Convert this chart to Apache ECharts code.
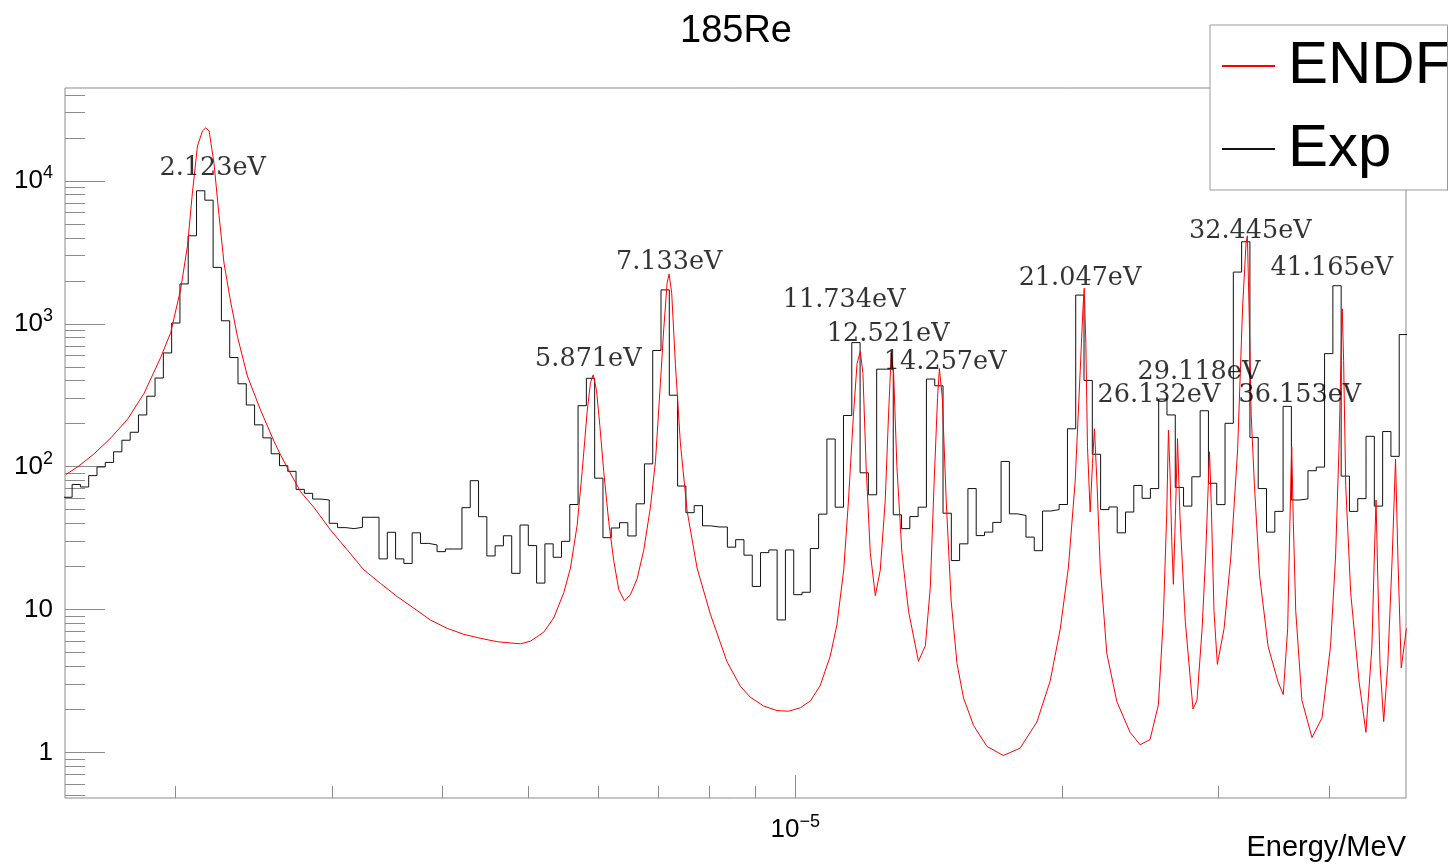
<!DOCTYPE html>
<html>
<head>
<meta charset="utf-8">
<script src="https://cdn.jsdelivr.net/npm/echarts@6/dist/echarts.min.js"></script>
<style>
html,body{margin:0;padding:0;background:#fff;}
#chart{width:1455px;height:864px;}
</style>
</head>
<body>
<div id="chart"></div>
<script>
// ---------------- data (energies in eV, cross sections in barns) ----------------
const endfEnergyEV = [
  1.503, 1.550, 1.618, 1.690, 1.765, 1.842, 1.923, 1.974, 2.026, 2.062,
  2.088, 2.116, 2.144, 2.162, 2.181, 2.209, 2.238, 2.267, 2.307, 2.348,
  2.409, 2.494, 2.581, 2.627, 2.696, 2.766, 2.863, 2.990, 3.123, 3.261,
  3.405, 3.556, 3.713, 3.877, 4.048, 4.227, 4.415, 4.610, 4.814, 4.898,
  5.026, 5.202, 5.339, 5.480, 5.576, 5.674, 5.748, 5.824, 5.874, 5.915,
  5.966, 6.018, 6.080, 6.159, 6.240, 6.321, 6.415, 6.516, 6.630, 6.745,
  6.863, 6.954, 7.044, 7.105, 7.168, 7.205, 7.254, 7.324, 7.419, 7.550,
  7.748, 8.021, 8.375, 8.670, 8.898, 9.210, 9.536, 9.827, 10.13, 10.40,
  10.67, 10.95, 11.14, 11.34, 11.48, 11.63, 11.74, 11.84, 11.92, 12.02,
  12.15, 12.31, 12.47, 12.63, 12.74, 12.83, 12.91, 13.02, 13.19, 13.42,
  13.77, 14.02, 14.20, 14.34, 14.47, 14.54, 14.65, 14.80, 14.99, 15.22,
  15.48, 15.89, 16.45, 17.17, 17.93, 18.73, 19.39, 19.90, 20.33, 20.69,
  20.96, 21.11, 21.18, 21.27, 21.36, 21.51, 21.64, 21.75, 21.89, 22.08,
  22.46, 23.05, 23.86, 24.49, 25.13, 25.68, 26.01, 26.24, 26.36, 26.47,
  26.59, 26.70, 26.84, 26.99, 27.16, 27.54, 27.90, 28.10, 28.39, 28.77,
  29.03, 29.23, 29.33, 29.46, 29.67, 29.93, 30.46, 31.00, 31.55, 31.96,
  32.25, 32.36, 32.50, 32.68, 32.96, 33.40, 34.15, 35.05, 35.52, 35.93,
  36.14, 36.31, 36.46, 36.69, 37.28, 38.27, 39.28, 40.16, 40.69, 41.05,
  41.31, 41.40, 41.55, 41.78, 42.32, 43.26, 44.03, 44.72, 45.00, 45.20,
  45.40, 45.67, 46.11, 46.60, 47.14, 47.55, 47.84, 48.26, 48.91
];
const endfSigma = [
  88, 99.5, 123, 159, 215, 326, 580, 868, 1750, 3514,
  8130, 17540, 22400, 23500, 22400, 13270, 5730, 2660, 1418, 811,
  431, 247, 151, 120, 89, 66.7, 51.9, 36.0, 26.1, 18.9,
  15.2, 12.3, 10.2, 8.43, 7.38, 6.70, 6.28, 5.95, 5.80, 5.75,
  6.0, 6.93, 8.73, 13.1, 19.5, 38.9, 92.1, 245, 387, 439,
  345, 194, 92, 41.2, 21.9, 13.8, 11.5, 12.7, 16.4, 26.0,
  51.8, 109, 387, 918, 1935, 2234, 1629, 516, 146, 48.9,
  19.5, 9.25, 4.3, 2.9, 2.43, 2.11, 1.96, 1.94, 2.05, 2.29,
  2.94, 4.72, 7.78, 18.9, 57.4, 230, 528, 641, 448, 100,
  25.0, 12.5, 18.9, 57.4, 230, 624, 448, 100, 25.0, 9.72,
  4.34, 5.58, 14.3, 75.8, 304, 486, 304, 57.4, 11.5, 4.18,
  2.40, 1.54, 1.10, 0.95, 1.07, 1.63, 3.17, 7.28, 19.8, 79.3,
  468, 1271, 1774, 730, 138, 48.1, 105, 184, 79.3, 19.8,
  4.94, 2.27, 1.38, 1.13, 1.23, 2.15, 8.60, 45.5, 180, 90,
  30, 15, 45, 157, 45, 8.25, 3.28, 2.01, 2.32, 7.35,
  23.3, 73.5, 127, 55, 9.8, 4.13, 7.35, 23.3, 131, 1309,
  3680, 4130, 1309, 232, 73.5, 17.4, 5.51, 3.10, 2.54, 7.35,
  41.3, 138, 41.3, 9.8, 2.32, 1.27, 1.74, 5.51, 23.3, 131,
  735, 1271, 551, 73.5, 13.1, 3.10, 1.38, 5.51, 23.3, 58.4,
  17.4, 4.13, 1.64, 4.13, 23.3, 113, 23.3, 3.90, 7.35
];

// Exp histogram: log-uniform bins, first lower edge and bin width (decades)
const expFirstEdgeEV = 1.4954;
const expDecadesPerBin = 0.0093574;
const expCounts = [
  61, 75, 72, 86.5, 99.5, 107, 127, 153, 174, 230,
  311, 417, 625, 1012, 1900, 4130, 8530, 7330, 2480, 1049,
  580, 380, 270, 196, 159, 123, 101.6, 92.7, 69.3, 65,
  59.3, 58.4, 40.1, 37.4, 36.8, 37.6, 44.2, 44.2, 22.6, 34.7,
  22.6, 21.0, 34.4, 29.0, 28.3, 25.4, 26.5, 26.5, 51.6, 79.7,
  44.6, 23.7, 27.9, 32.8, 17.9, 39, 28.0, 15.3, 28.8, 23.2,
  30.0, 54.3, 267, 415, 83, 31.8, 37.2, 40.5, 32.7, 54.9,
  104.5, 650, 1726, 316, 73.1, 47.6, 53.3, 38.5, 37.8, 37.8,
  27.3, 30.8, 24.0, 14.5, 25.0, 26.1, 8.45, 26.1, 12.7, 13.2,
  26.7, 46.5, 156, 52, 228, 738, 90.5, 63.5, 481, 481,
  46.0, 36.8, 44.7, 52, 410, 368, 47.2, 22.0, 28.8, 70.2,
  32.9, 34.8, 40.7, 108.7, 46.7, 45.5, 32.1, 25.8, 48.9, 50.0,
  54.3, 184, 1587, 401, 122, 50.0, 52.2, 34.4, 48.1, 73.8,
  60.0, 70.2, 297, 230, 71.5, 52.9, 84.9, 246, 76.5, 54.2,
  201, 2300, 3750, 160, 70.2, 34.8, 48.6, 264, 58.4, 59.4,
  93.6, 99.2, 618, 1846, 85.8, 48.6, 59.7, 163, 52.9, 176,
  118, 840
];

// resonance annotations (text, anchor energy in eV, anchor cross section)
const peakLabels = ['2.123eV','5.871eV','7.133eV','11.734eV','12.521eV','14.257eV',
                    '21.047eV','26.132eV','29.118eV','32.445eV','36.153eV','41.165eV'];
const peakLabelEnergyEV = [1.915, 5.080, 6.268, 9.668, 10.84, 12.57, 17.84, 21.90, 24.30, 27.77, 31.58, 34.31];
const peakLabelSigma = [12220, 567, 2705, 1466, 841, 540, 2075, 317, 460, 4427, 317, 2455];

// axes (MeV / barns)
const xRange = [1.5e-6, 4.886e-5];
const yRange = [0.479, 44700];
const xMajorTicks = [1e-5];
const xMinorTicks = [2e-6, 3e-6, 4e-6, 5e-6, 6e-6, 7e-6, 8e-6, 9e-6, 2e-5, 3e-5, 4e-5];
const yMajorTicks = [1, 10, 100, 1000, 10000];
const yMinorTicks = [0.5, 0.6, 0.7, 0.8, 0.9,
  2, 3, 4, 5, 6, 7, 8, 9,
  20, 30, 40, 50, 60, 70, 80, 90,
  200, 300, 400, 500, 600, 700, 800, 900,
  2000, 3000, 4000, 5000, 6000, 7000, 8000, 9000,
  20000, 30000, 40000];

// ---------------- chart ----------------
const MEV_PER_EV = 1e-6;
const SANS = '"Liberation Sans", Arial, Helvetica, sans-serif';
const SERIF = '"DejaVu Serif", "Liberation Serif", serif';
const AX = '#8c8c8c';

const endfData = endfEnergyEV.map((e, i) => [e * MEV_PER_EV, endfSigma[i]]);
const expData = expCounts.map((v, i) =>
  [expFirstEdgeEV * Math.pow(10, i * expDecadesPerBin) * MEV_PER_EV, v]);
expData.push([expFirstEdgeEV * Math.pow(10, expCounts.length * expDecadesPerBin) * MEV_PER_EV,
  expCounts[expCounts.length - 1]]);
const labelData = peakLabels.map((t, i) => ({
  name: t, value: [peakLabelEnergyEV[i] * MEV_PER_EV, peakLabelSigma[i]]
}));

function powLabel(v) {
  const e = Math.round(Math.log10(v));
  if (e === 0) return '1';
  if (e === 1) return '10';
  return '{b|10}{s|' + (e < 0 ? '\u2212' + (-e) : e) + '}';
}
const richLab = {
  b: { fontFamily: SANS, fontSize: 26, color: '#000', lineHeight: 34 },
  s: { fontFamily: SANS, fontSize: 18, color: '#000', lineHeight: 23, verticalAlign: 'top' }
};

const chart = echarts.init(document.getElementById('chart'), null, { renderer: 'canvas', width: 1455, height: 864 });
chart.setOption({
  animation: false,
  backgroundColor: '#ffffff',
  title: {
    text: '185Re', left: 731, top: 8, textAlign: 'center',
    textStyle: { fontFamily: SANS, fontSize: 38, fontWeight: 'normal', color: '#000' }
  },
  legend: {
    data: ['ENDF', 'Exp'],
    orient: 'vertical', left: 1210, top: 25,
    padding: [11, 30, 11, 11],
    itemWidth: 53, itemHeight: 60, itemGap: 23,
    backgroundColor: '#ffffff', borderColor: '#9a9a9a', borderWidth: 1, borderRadius: 0,
    itemStyle: { opacity: 0 },
    textStyle: { fontFamily: SANS, fontSize: 60, color: '#000', padding: [0, 0, 0, 8] },
    selectedMode: false
  },
  grid: {
    left: 65, top: 88, width: 1341, height: 710,
    show: true, borderColor: AX, borderWidth: 1, backgroundColor: 'transparent',
    containLabel: false, outerBoundsMode: 'none'
  },
  xAxis: [
    {
      type: 'log', min: xRange[0], max: xRange[1], position: 'bottom',
      axisLine: { show: false }, splitLine: { show: false }, minorTick: { show: false },
      axisTick: { show: true, inside: true, length: 23, customValues: xMajorTicks, lineStyle: { color: AX } },
      axisLabel: { show: true, customValues: xMajorTicks, margin: 15, formatter: powLabel,
        fontFamily: SANS, fontSize: 26, color: '#000', rich: richLab },
      name: 'Energy/MeV', nameLocation: 'end', nameGap: 0,
      nameTextStyle: { fontFamily: SANS, fontSize: 29, color: '#000', align: 'right', verticalAlign: 'top', padding: [35, 0, 0, 0] }
    },
    {
      type: 'log', min: xRange[0], max: xRange[1], position: 'bottom',
      axisLine: { show: false }, splitLine: { show: false }, axisLabel: { show: false },
      axisTick: { show: true, inside: true, length: 12, customValues: xMinorTicks, lineStyle: { color: AX } }
    }
  ],
  yAxis: [
    {
      type: 'log', min: yRange[0], max: yRange[1], position: 'left',
      axisLine: { show: false }, splitLine: { show: false }, minorTick: { show: false },
      axisTick: { show: true, inside: true, length: 40, customValues: yMajorTicks, lineStyle: { color: AX } },
      axisLabel: { show: true, customValues: yMajorTicks, margin: 12, formatter: powLabel,
        fontFamily: SANS, fontSize: 26, color: '#000', rich: richLab }
    },
    {
      type: 'log', min: yRange[0], max: yRange[1], position: 'left',
      axisLine: { show: false }, splitLine: { show: false }, axisLabel: { show: false },
      axisTick: { show: true, inside: true, length: 20, customValues: yMinorTicks, lineStyle: { color: AX } }
    }
  ],
  series: [
    {
      name: 'ENDF', type: 'line', xAxisIndex: 0, yAxisIndex: 0,
      data: endfData, symbol: 'none', clip: true, z: 3,
      itemStyle: { color: '#ff0000' },
      lineStyle: { color: '#ff0000', width: 1 }
    },
    {
      name: 'Exp', type: 'line', xAxisIndex: 0, yAxisIndex: 0,
      data: expData, step: 'end', symbol: 'none', clip: true, z: 2,
      itemStyle: { color: '#111111' },
      lineStyle: { color: '#111111', width: 1 }
    },
    {
      name: 'labels', type: 'scatter', xAxisIndex: 0, yAxisIndex: 0,
      data: labelData, symbolSize: 1, silent: true, z: 4,
      itemStyle: { color: 'rgba(0,0,0,0)' },
      label: { show: true, position: 'right', distance: 0, formatter: '{b}',
        fontFamily: SERIF, fontSize: 25.5, color: '#000' }
    }
  ],
  graphic: [
    { type: 'rect', silent: true, z: 100, shape: { x: 1448, y: 0, width: 7, height: 864 }, style: { fill: '#ffffff' } },
    { type: 'line', silent: true, z: 101, shape: { x1: 1447.5, y1: 25.5, x2: 1447.5, y2: 190.5 }, style: { stroke: '#9a9a9a', lineWidth: 1 } }
  ]
});
</script>
</body>
</html>
